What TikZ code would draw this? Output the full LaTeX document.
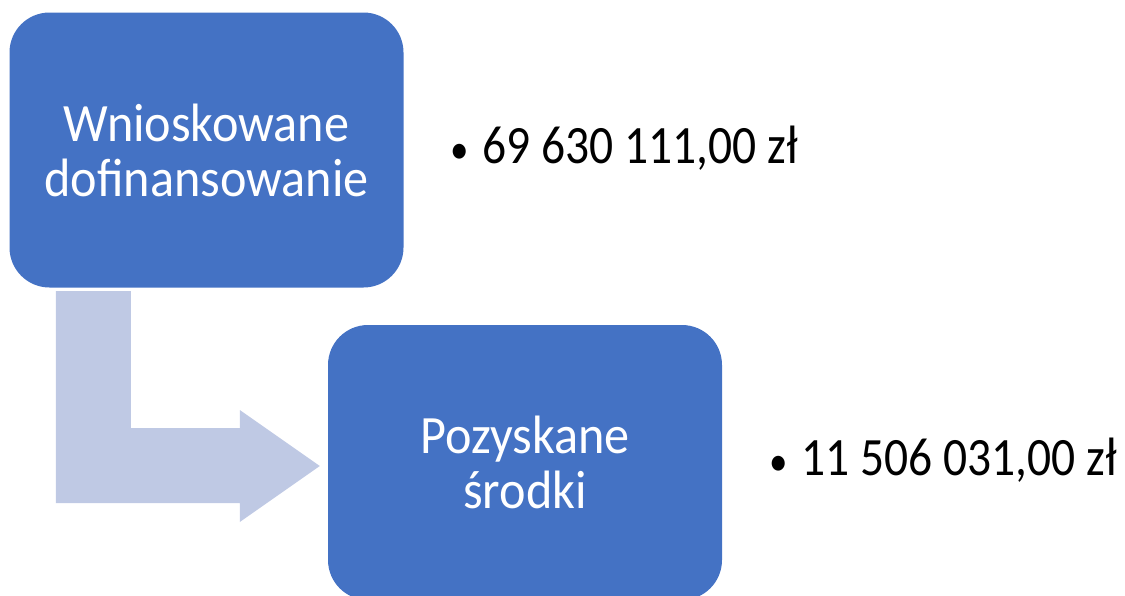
\documentclass[tikz,border=0pt]{standalone}
\usepackage{fontspec}
\setmainfont{Carlito}
\newfontfamily\boxfont[FakeStretch=0.93]{Carlito}
\newfontfamily\amountfont[FakeStretch=0.88]{Carlito}
\newcommand{\kropka}{{\fontsize{42}{42}\selectfont•}\hspace{14pt}}
\usetikzlibrary{positioning,calc}
\definecolor{boxblue}{HTML}{4472C4}
\definecolor{arrowblue}{HTML}{BFC9E4}

\begin{document}
\begin{tikzpicture}[x=1pt,y=-1pt,
  box/.style={fill=boxblue, rounded corners=40pt, minimum width=394pt, minimum height=275pt,
    text=white, align=center, inner sep=0pt, font=\boxfont\fontsize{54}{55}\selectfont},
  amount/.style={anchor=base west, inner sep=0pt, font=\amountfont\fontsize{54}{60}\selectfont}]
  \useasboundingbox (0,0) rectangle (1125,595);
  \node[box] (wniosek) at (206.5,150) {Wnioskowane\\dofinansowanie};
  \node[box] (pozysk) at (525,462.5) {Pozyskane\\środki};
  \node[amount] (kwota1) at (450,163) {\kropka 69 630 111,00 zł};
  \node[amount] (kwota2) at (769,475) {\kropka 11 506 031,00 zł};
  % bent arrow
  \coordinate (a1) at ($(wniosek.south west)+(46.5,3.5)$);
  \coordinate (a2) at ($(pozysk.west)+(-88,-34.5)$);
  \coordinate (a3) at ($(pozysk.west)+(-88,59.5)$);
  \fill[arrowblue] (a1) -- ++(75,0) |- (a2) -- ++(0,-18)
    -- ($(pozysk.west)+(-8,3.5)$) -- (a3) -- ++(0,-19) -- (a1 |- {$(a3)+(0,-19)$}) -- cycle;
\end{tikzpicture}
\end{document}
